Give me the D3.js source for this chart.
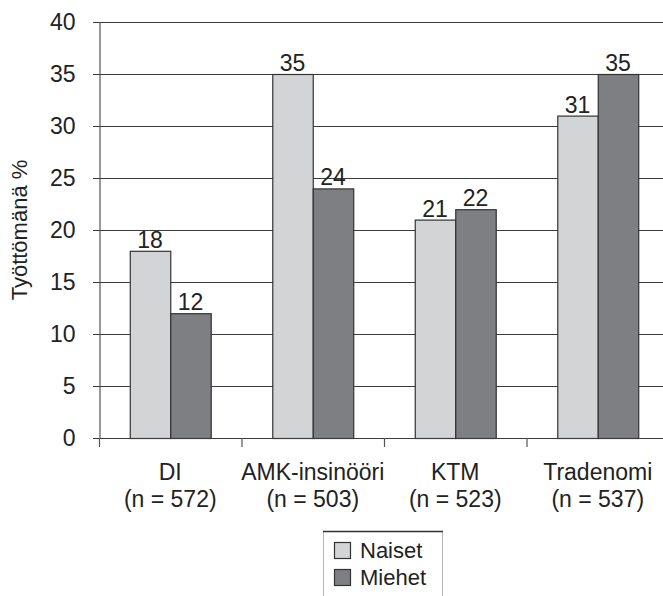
<!DOCTYPE html>
<html>
<head>
<meta charset="utf-8">
<script src="https://cdn.jsdelivr.net/npm/d3@7"></script>
<style>
  html, body { margin: 0; padding: 0; background: #fff; }
  svg { display: block; font-family: "Liberation Sans", Arial, Helvetica, sans-serif; }
</style>
</head>
<body>
<svg id="chart" width="663" height="596"></svg>
<script>
// Unemployment share (%) by degree and gender
const categories = ["DI", "AMK-insinööri", "KTM", "Tradenomi"];
const sampleSizes = ["(n = 572)", "(n = 503)", "(n = 523)", "(n = 537)"];
const seriesNames = ["Naiset", "Miehet"];
const naiset = [18, 35, 21, 31];
const miehet = [12, 24, 22, 35];
const yTicks = [0, 5, 10, 15, 20, 25, 30, 35, 40];
const yLabel = "Työttömänä %";

const colors = { Naiset: "#d3d4d6", Miehet: "#7e7f83" };
const textColor = "#222";
const fontSize = 23;

const svg = d3.select("#chart");
const margin = { left: 99, top: 22, bottom: 438 };
const groupWidth = 142.5;

const x = d3.scaleBand()
  .domain(categories)
  .range([margin.left, margin.left + groupWidth * categories.length])
  .paddingInner(0).paddingOuter(0);

const xInner = d3.scaleBand()
  .domain(seriesNames)
  .range([0, groupWidth])
  .paddingOuter(0.76).paddingInner(0);

const y = d3.scaleLinear().domain([0, 40]).range([margin.bottom, margin.top]);

// horizontal gridlines
svg.append("g").selectAll("line")
  .data(yTicks.filter(d => d > 0))
  .join("line")
  .attr("x1", margin.left - 6)
  .attr("x2", x.range()[1])
  .attr("y1", d => Math.round(y(d)) + 0.5)
  .attr("y2", d => Math.round(y(d)) + 0.5)
  .attr("stroke", "#3a3a3a")
  .attr("stroke-width", 1.2);

// y axis
const yAxis = d3.axisLeft(y).tickValues(yTicks).tickSize(6).tickPadding(18);
const gy = svg.append("g")
  .attr("transform", `translate(${margin.left + 0.5},0)`)
  .call(yAxis);
gy.select(".domain").attr("stroke", "#555").attr("stroke-width", 1.2);
gy.selectAll(".tick line").attr("stroke", "#3a3a3a");
gy.selectAll(".tick text")
  .attr("font-size", fontSize)
  .attr("fill", textColor)
  .attr("font-family", "Liberation Sans, Arial, sans-serif");

// bars
const rows = categories.map((c, i) => ({ cat: c, values: [
  { key: "Naiset", value: naiset[i] },
  { key: "Miehet", value: miehet[i] }
]}));

const groups = svg.append("g").selectAll("g")
  .data(rows)
  .join("g")
  .attr("transform", d => `translate(${x(d.cat)},0)`);

groups.selectAll("rect")
  .data(d => d.values)
  .join("rect")
  .attr("x", d => xInner(d.key) + 0.5)
  .attr("y", d => y(d.value) + 0.5)
  .attr("width", xInner.bandwidth())
  .attr("height", d => y(0) - y(d.value))
  .attr("fill", d => colors[d.key])
  .attr("stroke", "#333")
  .attr("stroke-width", 1.2);

groups.selectAll("text.val")
  .data(d => d.values)
  .join("text")
  .attr("class", "val")
  .attr("x", d => xInner(d.key) + xInner.bandwidth() / 2)
  .attr("y", d => y(d.value) - 3)
  .attr("text-anchor", "middle")
  .attr("font-size", fontSize)
  .attr("fill", textColor)
  .text(d => d.value);

// x axis
const xAxisG = svg.append("g");
xAxisG.append("line")
  .attr("x1", margin.left - 6).attr("x2", x.range()[1])
  .attr("y1", y(0) + 0.5).attr("y2", y(0) + 0.5)
  .attr("stroke", "#3a3a3a").attr("stroke-width", 1.2);
xAxisG.selectAll("line.tk")
  .data(categories.map(c => x(c)))
  .join("line")
  .attr("class", "tk")
  .attr("x1", d => d + 0.5).attr("x2", d => d + 0.5)
  .attr("y1", y(0)).attr("y2", y(0) + 9)
  .attr("stroke", "#555").attr("stroke-width", 1.2);

const catLabels = xAxisG.selectAll("text.cat")
  .data(categories.map((c, i) => ({ c, n: sampleSizes[i] })))
  .join("text")
  .attr("class", "cat")
  .attr("text-anchor", "middle")
  .attr("font-size", fontSize)
  .attr("fill", textColor);
catLabels.append("tspan")
  .attr("x", d => x(d.c) + x.bandwidth() / 2)
  .attr("y", 480)
  .text(d => d.c);
catLabels.append("tspan")
  .attr("x", d => x(d.c) + x.bandwidth() / 2)
  .attr("y", 507)
  .text(d => d.n);

// y axis title
svg.append("text")
  .attr("transform", `translate(27,${(y(0) + y(40)) / 2}) rotate(-90)`)
  .attr("text-anchor", "middle")
  .attr("font-size", 22)
  .attr("fill", textColor)
  .text(yLabel);

// legend
const lg = svg.append("g").attr("transform", "translate(323,531)");
lg.append("rect").attr("x", 0).attr("y", 0).attr("width", 119).attr("height", 80)
  .attr("fill", "#fff");
lg.append("line").attr("x1", 0.5).attr("x2", 0.5).attr("y1", 0).attr("y2", 80)
  .attr("stroke", "#b5b5b5");
lg.append("line").attr("x1", 119.5).attr("x2", 119.5).attr("y1", 0).attr("y2", 80)
  .attr("stroke", "#b5b5b5");
lg.append("line").attr("x1", 0).attr("x2", 120).attr("y1", 0.5).attr("y2", 0.5)
  .attr("stroke", "#333").attr("stroke-width", 1.5);

const items = lg.selectAll("g.item")
  .data(seriesNames)
  .join("g")
  .attr("class", "item")
  .attr("transform", (d, i) => `translate(11,${11 + i * 27})`);
items.append("rect")
  .attr("x", 0.5).attr("y", 0.5)
  .attr("width", 16).attr("height", 16)
  .attr("fill", d => colors[d])
  .attr("stroke", "#333").attr("stroke-width", 1.2);
items.append("text")
  .attr("x", 26).attr("y", 16)
  .attr("font-size", 22)
  .attr("fill", textColor)
  .text(d => d);
</script>
</body>
</html>
